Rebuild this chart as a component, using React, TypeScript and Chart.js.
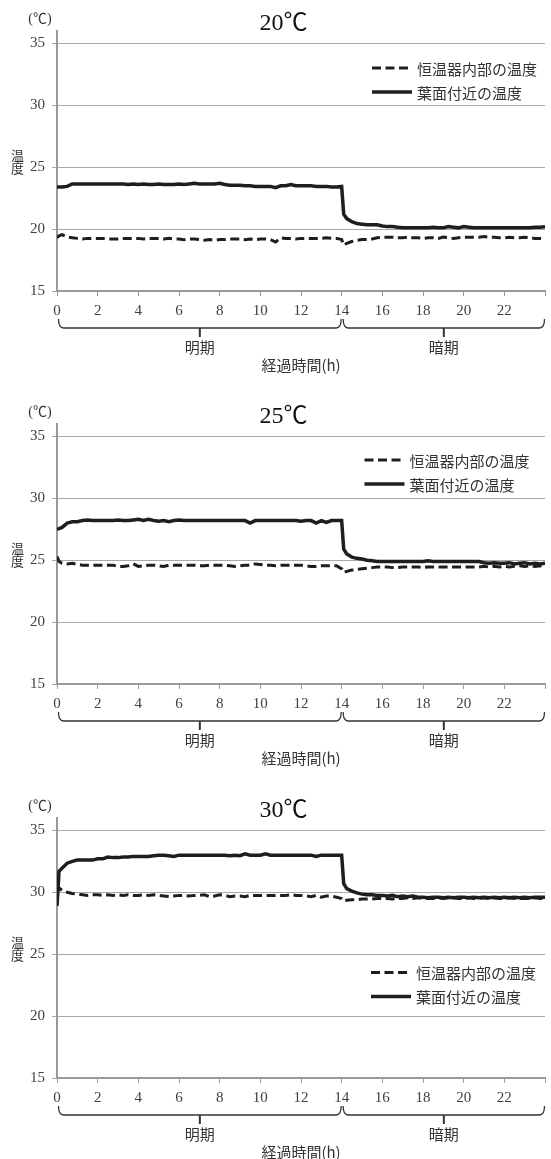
import React, { useEffect, useRef } from "react";
import { Chart, registerables } from "chart.js";

Chart.register(...registerables);

// ---- data ---------------------------------------------------------------
// elapsed time (h) of each reading
const TIME_H = [
  0, 0.1, 0.25, 0.5, 0.75,
  1, 1.25, 1.5, 1.75,
  2, 2.25, 2.5, 2.75,
  3, 3.25, 3.5, 3.75,
  4, 4.25, 4.5, 4.75,
  5, 5.25, 5.5, 5.75,
  6, 6.25, 6.5, 6.75,
  7, 7.25, 7.5, 7.75,
  8, 8.25, 8.5, 8.75,
  9, 9.25, 9.5, 9.75,
  10, 10.25, 10.5, 10.75,
  11, 11.25, 11.5, 11.75,
  12, 12.25, 12.5, 12.75,
  13, 13.25, 13.5, 13.75,
  14, 14.1, 14.25, 14.5, 14.75,
  15, 15.25, 15.5, 15.75,
  16, 16.25, 16.5, 16.75,
  17, 17.25, 17.5, 17.75,
  18, 18.25, 18.5, 18.75,
  19, 19.25, 19.5, 19.75,
  20, 20.25, 20.5, 20.75,
  21, 21.25, 21.5, 21.75,
  22, 22.25, 22.5, 22.75,
  23, 23.25, 23.5, 23.75,
  24,
];

// 20℃ setting
const CHAMBER_20 = [
  19.3, 19.45, 19.55, 19.35, 19.3,
  19.25, 19.2, 19.25, 19.25,
  19.25, 19.25, 19.2, 19.2,
  19.2, 19.25, 19.25, 19.25,
  19.25, 19.2, 19.25, 19.25,
  19.25, 19.2, 19.25, 19.2,
  19.2, 19.15, 19.2, 19.2,
  19.15, 19.1, 19.15, 19.1,
  19.15, 19.15, 19.2, 19.2,
  19.2, 19.15, 19.2, 19.15,
  19.2, 19.2, 19.15, 18.95,
  19.3, 19.25, 19.25, 19.2,
  19.25, 19.25, 19.25, 19.25,
  19.25, 19.3, 19.25, 19.25,
  19.15, 18.7, 18.85, 19.0, 19.1,
  19.15, 19.15, 19.2, 19.3,
  19.35, 19.35, 19.35, 19.3,
  19.3, 19.35, 19.3, 19.3,
  19.25, 19.3, 19.3, 19.25,
  19.35, 19.3, 19.25, 19.3,
  19.35, 19.35, 19.35, 19.35,
  19.4, 19.35, 19.35, 19.3,
  19.3, 19.35, 19.3, 19.3,
  19.35, 19.3, 19.25, 19.25,
  19.2,
];
const LEAF_20 = [
  23.4, 23.4, 23.4, 23.45, 23.65,
  23.65, 23.65, 23.65, 23.65,
  23.65, 23.65, 23.65, 23.65,
  23.65, 23.65, 23.6, 23.65,
  23.6, 23.65, 23.6, 23.6,
  23.65, 23.6, 23.6, 23.6,
  23.65, 23.6, 23.65, 23.7,
  23.65, 23.65, 23.65, 23.65,
  23.7, 23.6, 23.55, 23.55,
  23.55, 23.5, 23.5, 23.45,
  23.45, 23.45, 23.45, 23.35,
  23.5, 23.5, 23.6, 23.5,
  23.5, 23.5, 23.5, 23.45,
  23.45, 23.45, 23.4, 23.4,
  23.45, 21.2, 20.85, 20.6, 20.45,
  20.4, 20.35, 20.35, 20.35,
  20.25, 20.2, 20.2, 20.15,
  20.1, 20.1, 20.1, 20.1,
  20.1, 20.1, 20.15, 20.1,
  20.1, 20.2, 20.15, 20.1,
  20.2, 20.15, 20.1, 20.1,
  20.1, 20.1, 20.1, 20.1,
  20.1, 20.1, 20.1, 20.1,
  20.1, 20.1, 20.15, 20.15,
  20.2,
];

// 25℃ setting
const CHAMBER_25 = [
  25.3, 24.9, 24.75, 24.7, 24.75,
  24.65, 24.6, 24.6, 24.6,
  24.6, 24.6, 24.6, 24.6,
  24.5, 24.5, 24.55, 24.7,
  24.5, 24.55, 24.6, 24.6,
  24.55, 24.5, 24.6, 24.6,
  24.6, 24.6, 24.6, 24.6,
  24.55, 24.55, 24.6, 24.6,
  24.6, 24.6, 24.55, 24.5,
  24.55, 24.6, 24.6, 24.7,
  24.65, 24.6, 24.6, 24.55,
  24.6, 24.6, 24.6, 24.6,
  24.6, 24.55, 24.5, 24.5,
  24.55, 24.55, 24.55, 24.55,
  24.3, 24.0, 24.1, 24.2, 24.25,
  24.3, 24.35, 24.4, 24.45,
  24.45, 24.45, 24.4, 24.4,
  24.45, 24.45, 24.45, 24.45,
  24.4, 24.45, 24.45, 24.45,
  24.45, 24.45, 24.45, 24.45,
  24.45, 24.45, 24.45, 24.45,
  24.5, 24.45, 24.5, 24.45,
  24.5, 24.45, 24.5, 24.55,
  24.5, 24.55, 24.5, 24.55,
  24.45,
];
const LEAF_25 = [
  27.5, 27.55, 27.65, 28.0, 28.1,
  28.1, 28.2, 28.25, 28.2,
  28.2, 28.2, 28.2, 28.2,
  28.25, 28.2, 28.2, 28.25,
  28.3, 28.2, 28.3, 28.2,
  28.15, 28.2, 28.1, 28.2,
  28.25, 28.2, 28.2, 28.2,
  28.2, 28.2, 28.2, 28.2,
  28.2, 28.2, 28.2, 28.2,
  28.2, 28.2, 28.0, 28.2,
  28.2, 28.2, 28.2, 28.2,
  28.2, 28.2, 28.2, 28.2,
  28.15, 28.2, 28.2, 28.0,
  28.2, 28.05, 28.2, 28.2,
  28.2, 25.9, 25.5, 25.25, 25.15,
  25.1, 25.0, 24.95, 24.9,
  24.9, 24.9, 24.9, 24.9,
  24.9, 24.9, 24.9, 24.9,
  24.9, 24.95, 24.9, 24.9,
  24.9, 24.9, 24.9, 24.9,
  24.9, 24.9, 24.9, 24.9,
  24.8, 24.75, 24.8, 24.75,
  24.75, 24.8, 24.7, 24.75,
  24.8, 24.7, 24.75, 24.7,
  24.75,
];

// 30℃ setting
const CHAMBER_30 = [
  29.95, 30.35, 30.15, 30.0, 29.9,
  29.85, 29.8, 29.75, 29.8,
  29.8, 29.75, 29.8, 29.75,
  29.8, 29.75, 29.8, 29.75,
  29.75, 29.8, 29.75, 29.8,
  29.75, 29.7, 29.65, 29.7,
  29.75, 29.75, 29.7, 29.75,
  29.75, 29.8, 29.65, 29.7,
  29.8, 29.75, 29.65, 29.7,
  29.7, 29.65, 29.75, 29.75,
  29.75, 29.75, 29.75, 29.75,
  29.75, 29.75, 29.8, 29.75,
  29.75, 29.7, 29.65, 29.75,
  29.6, 29.7, 29.7, 29.6,
  29.5, 29.3, 29.35, 29.4, 29.4,
  29.45, 29.45, 29.45, 29.5,
  29.5, 29.5, 29.45, 29.5,
  29.5, 29.55, 29.5, 29.55,
  29.5, 29.5, 29.5, 29.55,
  29.5, 29.55, 29.55, 29.5,
  29.5, 29.55, 29.5, 29.5,
  29.55, 29.5, 29.55, 29.5,
  29.5, 29.55, 29.5, 29.5,
  29.5, 29.5, 29.55, 29.5,
  29.5,
];
const LEAF_30 = [
  28.9, 31.7, 31.95, 32.35, 32.5,
  32.6, 32.6, 32.6, 32.6,
  32.7, 32.7, 32.85, 32.8,
  32.8, 32.85, 32.85, 32.9,
  32.9, 32.9, 32.9, 32.95,
  33.0, 33.0, 32.95, 32.9,
  33.0, 33.0, 33.0, 33.0,
  33.0, 33.0, 33.0, 33.0,
  33.0, 33.0, 32.95, 33.0,
  32.95, 33.1, 33.0, 33.0,
  33.0, 33.1, 33.0, 33.0,
  33.0, 33.0, 33.0, 33.0,
  33.0, 33.0, 33.0, 32.9,
  33.0, 33.0, 33.0, 33.0,
  33.0, 30.7, 30.3, 30.1, 29.95,
  29.85, 29.8, 29.8, 29.75,
  29.75, 29.7, 29.75, 29.65,
  29.7, 29.65, 29.7, 29.6,
  29.6, 29.55, 29.6, 29.6,
  29.55, 29.6, 29.55, 29.6,
  29.6, 29.55, 29.6, 29.55,
  29.6, 29.55, 29.6, 29.55,
  29.6, 29.55, 29.6, 29.55,
  29.6, 29.55, 29.6, 29.6,
  29.6,
];

const SERIES_LABELS = ["恒温器内部の温度", "葉面付近の温度"];
const PANEL_TITLES = ["20℃", "25℃", "30℃"];
const X_TICK_STEP = 2;
const X_MIN = 0;
const X_MAX = 24;
const Y_MIN = 15;
const Y_MAX = 36;
const Y_TICK_STEP = 5;
const PERIOD_LABELS = ["明期", "暗期"];
const PERIOD_BOUNDS = [0, 14, 24];
const X_TITLE = "経過時間(h)";
const Y_TITLE_CHARS = ["温", "度"];
const Y_TITLE_AT = 25;
const UNIT_LABEL = "(℃)";

// ---- styles / layout ----------------------------------------------------
const SERIF = '"Liberation Serif", "Noto Sans CJK JP", serif';
const CJK = '"Noto Sans CJK JP", sans-serif';
const LINE_COLOR = "#1e1e1e";
const TEXT_COLOR = "#333333";
const TICK_COLOR = "#404040";
const GRID_COLOR = "#a8a8a8";
const AXIS_COLOR = "#9a9a9a";
const DASH = [9, 4.5];
const PLOT_TOP = 31;
const PLOT_BOTTOM = 291;
const PLOT_LEFT = 57;

const PANELS = [
  { chamber: CHAMBER_20, leaf: LEAF_20, title: PANEL_TITLES[0], height: 393, legend: { x: 372, y: 68 } },
  { chamber: CHAMBER_25, leaf: LEAF_25, title: PANEL_TITLES[1], height: 394, legend: { x: 364.5, y: 67 } },
  { chamber: CHAMBER_30, leaf: LEAF_30, title: PANEL_TITLES[2], height: 372, legend: { x: 371, y: 185.5 } },
];

function makeDecor(panel: any) {
  return {
    id: "panelDecor",
    afterDraw(chart: any) {
      const { ctx } = chart;
      const xs = chart.scales.x;
      const ys = chart.scales.y;
      ctx.save();

      // title
      ctx.fillStyle = "#111111";
      ctx.textAlign = "center";
      ctx.textBaseline = "middle";
      ctx.font = `24px ${SERIF}`;
      ctx.fillText(panel.title, 283.5, 24);

      // unit
      ctx.fillStyle = TEXT_COLOR;
      ctx.font = `14px ${SERIF}`;
      ctx.fillText(UNIT_LABEL, 40, 19);

      // stacked y title
      ctx.font = `13px ${CJK}`;
      const yRef = ys.getPixelForValue(Y_TITLE_AT);
      Y_TITLE_CHARS.forEach((c, i) => {
        ctx.fillText(c, 17.5, yRef + 1 - (Y_TITLE_CHARS.length - 1 - i) * 13);
      });

      // braces for light / dark periods
      const axisY = ys.bottom;
      const top = axisY + 28;
      const line = axisY + 37;
      const prong = axisY + 46;
      const r = 5;
      ctx.strokeStyle = "#333333";
      ctx.lineWidth = 1.3;
      ctx.font = `15px ${CJK}`;
      ctx.fillStyle = TEXT_COLOR;
      for (let k = 0; k < PERIOD_LABELS.length; k++) {
        const a = xs.getPixelForValue(PERIOD_BOUNDS[k]) + 1.5;
        const b = xs.getPixelForValue(PERIOD_BOUNDS[k + 1]) - 0.5;
        const mid = (a + b) / 2;
        ctx.beginPath();
        ctx.moveTo(a, top);
        ctx.quadraticCurveTo(a, line, a + r, line);
        ctx.lineTo(b - r, line);
        ctx.quadraticCurveTo(b, line, b, top);
        ctx.stroke();
        ctx.beginPath();
        ctx.lineWidth = 2;
        ctx.moveTo(mid, line);
        ctx.lineTo(mid, prong);
        ctx.stroke();
        ctx.lineWidth = 1.3;
        ctx.fillText(PERIOD_LABELS[k], mid, axisY + 56);
      }

      // x title
      ctx.fillText(X_TITLE, (xs.left + xs.right) / 2, axisY + 74);

      // legend
      ctx.textAlign = "left";
      chart.data.datasets.forEach((ds: any, i: number) => {
        const ly = panel.legend.y + i * 24;
        ctx.strokeStyle = ds.borderColor;
        ctx.lineWidth = ds.borderWidth;
        ctx.setLineDash(ds.borderDash || []);
        ctx.beginPath();
        ctx.moveTo(panel.legend.x, ly);
        ctx.lineTo(panel.legend.x + (ds.borderDash ? 36 : 40), ly);
        ctx.stroke();
        ctx.setLineDash([]);
        ctx.fillStyle = TEXT_COLOR;
        ctx.font = `15px ${CJK}`;
        ctx.fillText(ds.label, panel.legend.x + 45, ly + 1);
      });

      ctx.restore();
    },
  };
}

function Panel({ index }: { index: number }) {
  const ref = useRef<HTMLCanvasElement>(null);
  const panel = PANELS[index];

  useEffect(() => {
    if (!ref.current) return;
    const chart = new Chart(ref.current, {
      type: "line",
      data: {
        datasets: [
          {
            label: SERIES_LABELS[0],
            data: TIME_H.map((t, i) => ({ x: t, y: panel.chamber[i] })),
            borderColor: LINE_COLOR,
            borderWidth: 3,
            borderDash: DASH,
            pointRadius: 0,
            tension: 0,
            fill: false,
          },
          {
            label: SERIES_LABELS[1],
            data: TIME_H.map((t, i) => ({ x: t, y: panel.leaf[i] })),
            borderColor: LINE_COLOR,
            borderWidth: 3.5,
            pointRadius: 0,
            tension: 0,
            fill: false,
          },
        ],
      },
      options: {
        animation: false,
        responsive: false,
        events: [],
        layout: { padding: { top: PLOT_TOP, right: 1, left: 0, bottom: 0 } },
        plugins: {
          legend: { display: false },
          tooltip: { enabled: false },
          title: { display: false },
        },
        scales: {
          x: {
            type: "linear",
            min: X_MIN,
            max: X_MAX,
            afterFit: (s: any) => {
              s.height = panel.height - PLOT_BOTTOM;
            },
            border: { display: true, color: AXIS_COLOR, width: 2 },
            grid: {
              drawOnChartArea: false,
              drawTicks: true,
              tickLength: 5,
              color: AXIS_COLOR,
              lineWidth: 1,
            },
            ticks: {
              stepSize: X_TICK_STEP,
              autoSkip: false,
              maxRotation: 0,
              padding: 6,
              color: TICK_COLOR,
              font: { family: SERIF, size: 15 },
              callback: (v: any) => (v === X_MAX ? "" : String(v)),
            },
          },
          y: {
            type: "linear",
            min: Y_MIN,
            max: Y_MAX,
            afterFit: (s: any) => {
              s.width = PLOT_LEFT;
            },
            afterBuildTicks: (s: any) => {
              s.ticks = s.ticks.filter((t: any) => (t.value - Y_MIN) % Y_TICK_STEP === 0);
            },
            border: { display: true, color: AXIS_COLOR, width: 2 },
            grid: {
              drawOnChartArea: true,
              drawTicks: true,
              tickLength: 5,
              color: GRID_COLOR,
              lineWidth: 1,
            },
            ticks: {
              stepSize: Y_TICK_STEP,
              includeBounds: false,
              padding: 7,
              color: TICK_COLOR,
              font: { family: SERIF, size: 15 },
            },
          },
        },
      },
      plugins: [makeDecor(panel)],
    } as any);
    return () => chart.destroy();
  }, []);

  return (
    <canvas
      ref={ref}
      width={551}
      height={panel.height}
      style={{ display: "block", width: 551, height: panel.height }}
    />
  );
}

export default function App() {
  return (
    <div style={{ position: "absolute", left: 0, top: 0, width: 551, background: "#ffffff" }}>
      {PANELS.map((_, i) => (
        <Panel key={i} index={i} />
      ))}
    </div>
  );
}
